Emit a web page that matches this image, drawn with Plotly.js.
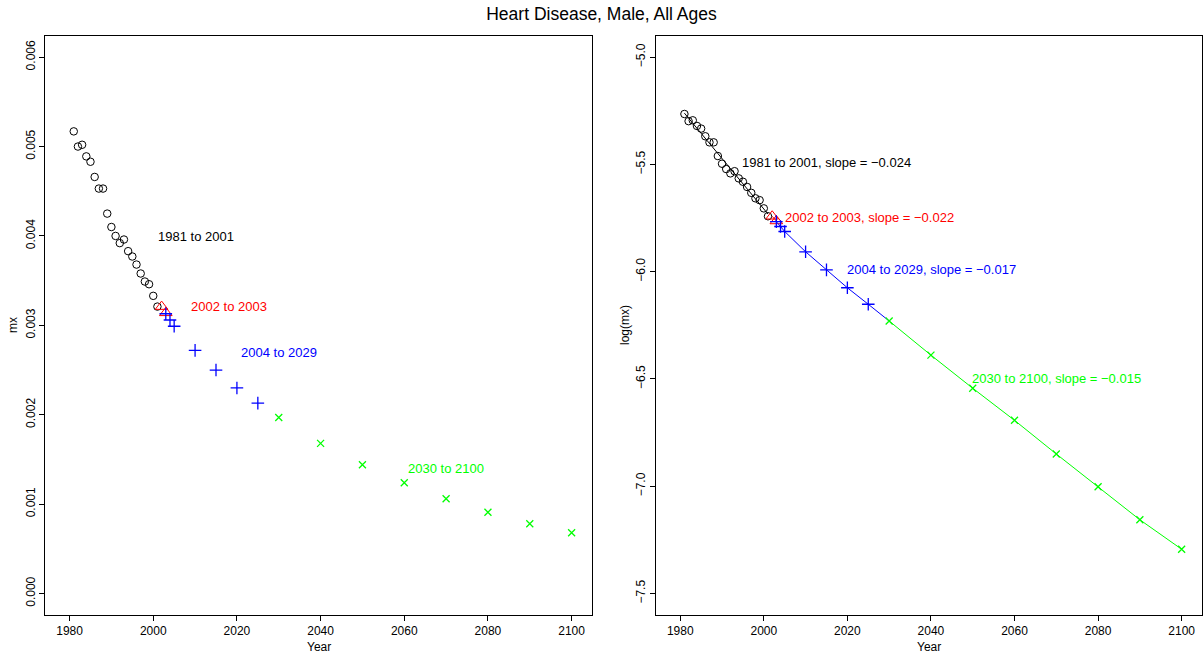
<!DOCTYPE html>
<html>
<head>
<meta charset="utf-8">
<script src="https://cdn.plot.ly/plotly-3.0.1.min.js"></script>
<style>html,body{margin:0;padding:0;background:#fff;}#chart{width:1203px;height:656px;}</style>
</head>
<body>
<div id="chart"></div>
<script>
// ---- data ----
const blackYears = [1981,1982,1983,1984,1985,1986,1987,1988,1989,1990,1991,1992,1993,1994,1995,1996,1997,1998,1999,2000,2001];
const blackMx = [0.00517,0.00500,0.00502,0.00489,0.00483,0.00466,0.00453,0.00453,0.00425,0.00410,0.00400,0.00392,0.00396,0.00383,0.00377,0.00368,0.00358,0.00349,0.00346,0.00333,0.00321];
const redYears = [2002, 2003];
const redMx = [0.00321, 0.00314];
const blueYears = [2003, 2004, 2005, 2010, 2015, 2020, 2025];
const blueMx = [0.00313, 0.00306, 0.00299, 0.00272, 0.00250, 0.00230, 0.00213];
const greenYears = [2030, 2040, 2050, 2060, 2070, 2080, 2090, 2100];
const greenMx = [0.00197, 0.00168, 0.00144, 0.00124, 0.00106, 0.00091, 0.00078, 0.00068];
// fitted line for 1981-2001 (log scale), endpoints
const blackFitYears = [1981, 2001];
const blackFitLog = [-5.261, -5.731];

const labelsLeft = ["1981 to 2001", "2002 to 2003", "2004 to 2029", "2030 to 2100"];
const labelsRight = ["1981 to 2001, slope = \u22120.024", "2002 to 2003, slope = \u22120.022", "2004 to 2029, slope = \u22120.017", "2030 to 2100, slope = \u22120.015"];
const labelLeftX = [2010.3, 2018.1, 2030.1, 2070];
const labelLeftY = [0.00399, 0.00321, 0.00270, 0.00140];
const labelRightX = [2015.1, 2025.4, 2040.2, 2070.1];
const labelRightY = [-5.493, -5.746, -5.99, -6.50];
const colors = ["#000000", "#FF0000", "#0000FF", "#00FF00"];

const xTicks = [1980, 2000, 2020, 2040, 2060, 2080, 2100];
const yTicksLeft = [0, 0.001, 0.002, 0.003, 0.004, 0.005, 0.006];
const yTicksRight = [-5.0, -5.5, -6.0, -6.5, -7.0, -7.5];

const ln = a => a.map(v => Math.log(v));
const FONT = "Liberation Sans, Arial, sans-serif";

const circ = {symbol: "circle-open", size: 7.5, color: "#000", line: {width: 1, color: "#000"}};
const tri = {symbol: "triangle-up-open", size: 11, color: "#FF0000", line: {width: 1, color: "#FF0000"}};
const plus = {symbol: "cross-thin-open", size: 9, color: "#0000FF", line: {width: 1.3, color: "#0000FF"}};
const ex = {symbol: "x-thin-open", size: 7, color: "#00FF00", line: {width: 1.3, color: "#00FF00"}};

const traces = [
  // left panel
  {x: blackYears, y: blackMx, mode: "markers", marker: circ, xaxis: "x", yaxis: "y"},
  {x: redYears, y: redMx, mode: "markers", marker: tri, xaxis: "x", yaxis: "y"},
  {x: blueYears, y: blueMx, mode: "markers", marker: plus, xaxis: "x", yaxis: "y"},
  {x: greenYears, y: greenMx, mode: "markers", marker: ex, xaxis: "x", yaxis: "y"},
  // right panel
  {x: blackFitYears, y: blackFitLog, mode: "lines", line: {color: "#000", width: 1}, xaxis: "x2", yaxis: "y2"},
  {x: blackYears, y: ln(blackMx), mode: "markers", marker: circ, xaxis: "x2", yaxis: "y2"},
  {x: redYears, y: ln(redMx), mode: "lines+markers", line: {color: "#FF0000", width: 1}, marker: tri, xaxis: "x2", yaxis: "y2"},
  {x: [blueYears[blueYears.length-1], greenYears[0]], y: ln([blueMx[blueMx.length-1], greenMx[0]]), mode: "lines", line: {color: "#0000FF", width: 1}, xaxis: "x2", yaxis: "y2"},
  {x: blueYears, y: ln(blueMx), mode: "lines+markers", line: {color: "#0000FF", width: 1}, marker: plus, xaxis: "x2", yaxis: "y2"},
  {x: greenYears, y: ln(greenMx), mode: "lines+markers", line: {color: "#00FF00", width: 1}, marker: ex, xaxis: "x2", yaxis: "y2"}
];

const W = 1203, H = 656;
const axBase = {
  showgrid: false, zeroline: false, showline: true, mirror: true, linecolor: "#000", linewidth: 1,
  ticks: "outside", ticklen: 5, tickwidth: 1, tickcolor: "#000",
  tickfont: {family: FONT, size: 12, color: "#000"}, fixedrange: true
};
const yDom = [(H - 615) / H, (H - 35.7) / H];

const annotations = [];
for (let i = 0; i < 4; i++) {
  annotations.push({x: labelLeftX[i], y: labelLeftY[i], xref: "x", yref: "y", text: labelsLeft[i], showarrow: false,
    xanchor: "center", yanchor: "middle", font: {family: FONT, size: 13, color: colors[i]}});
  annotations.push({x: labelRightX[i], y: labelRightY[i], xref: "x2", yref: "y2", text: labelsRight[i], showarrow: false,
    xanchor: "center", yanchor: "middle", font: {family: FONT, size: 13, color: colors[i]}});
}
const titleFont = {family: FONT, size: 12, color: "#000"};
annotations.push({x: 318.5 / W, y: 1 - 647 / H, xref: "paper", yref: "paper", text: "Year", showarrow: false, xanchor: "center", yanchor: "middle", font: titleFont});
annotations.push({x: 929 / W, y: 1 - 647 / H, xref: "paper", yref: "paper", text: "Year", showarrow: false, xanchor: "center", yanchor: "middle", font: titleFont});
annotations.push({x: 13 / W, y: 1 - 325 / H, xref: "paper", yref: "paper", text: "mx", textangle: -90, showarrow: false, xanchor: "center", yanchor: "middle", font: titleFont});
annotations.push({x: 625 / W, y: 1 - 325 / H, xref: "paper", yref: "paper", text: "log(mx)", textangle: -90, showarrow: false, xanchor: "center", yanchor: "middle", font: titleFont});

const layout = {
  width: W, height: H, showlegend: false,
  paper_bgcolor: "#fff", plot_bgcolor: "#fff",
  margin: {l: 0, r: 0, t: 0, b: 0, pad: 0},
  title: {text: "Heart Disease, Male, All Ages", x: 0.5, xanchor: "center", xref: "container", y: 1 - 14 / H, yanchor: "middle", yref: "container",
    font: {family: FONT, size: 17.5, color: "#000"}},
  xaxis: Object.assign({}, axBase, {domain: [45.3 / W, 591.7 / W], range: [1974.2, 2104.8], tickmode: "array", tickvals: xTicks, ticktext: xTicks.map(String), anchor: "y"}),
  yaxis: Object.assign({}, axBase, {domain: yDom, range: [-0.00024, 0.00624], tickmode: "array", tickvals: yTicksLeft, ticktext: yTicksLeft.map(v => v.toFixed(3)), tickangle: -90, anchor: "x"}),
  xaxis2: Object.assign({}, axBase, {domain: [656 / W, 1201.7 / W], range: [1974.2, 2104.8], tickmode: "array", tickvals: xTicks, ticktext: xTicks.map(String), anchor: "y2"}),
  yaxis2: Object.assign({}, axBase, {domain: yDom, range: [-7.6, -4.9], tickmode: "array", tickvals: yTicksRight, ticktext: yTicksRight.map(v => (v < 0 ? "\u2212" : "") + Math.abs(v).toFixed(1)), tickangle: -90, anchor: "x2"}),
  annotations: annotations
};

Plotly.newPlot("chart", traces, layout, {displayModeBar: false, staticPlot: true});
</script>
</body>
</html>
